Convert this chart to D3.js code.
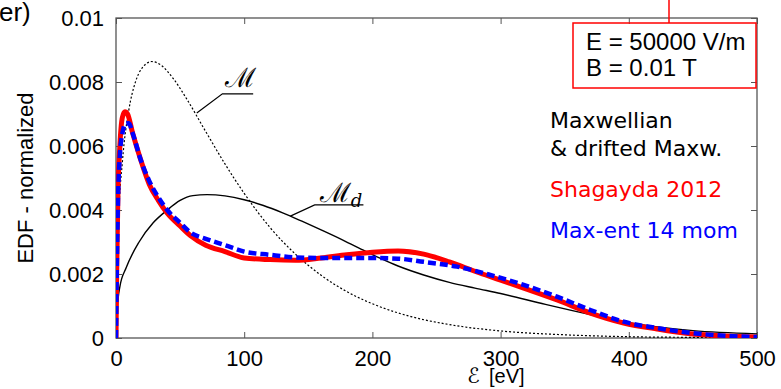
<!DOCTYPE html>
<html>
<head>
<meta charset="utf-8">
<script src="https://cdn.jsdelivr.net/npm/d3@7"></script>
<style>
  body { margin: 0; background: #fff; }
  svg { display: block; }
</style>
</head>
<body>
<div id="chart"></div>
<script>
// energies [eV] and EDF values
var maxwE = [0, 2, 5, 10, 15, 20, 28, 35, 45, 55, 70, 85, 100, 120, 140, 160, 180, 200, 230, 260, 300, 350, 400, 450, 500];
var maxwF = [0, 0.00367, 0.00551, 0.00712, 0.00798, 0.00842, 0.00864, 0.00853, 0.00809, 0.00748, 0.00645, 0.00544, 0.00452, 0.00346, 0.00262, 0.00196, 0.00145, 0.00107, 0.00067, 0.00042, 0.00022, 0.0001, 0.00004, 0.00002, 0.00001];

var driftE = [0, 1, 3, 8, 18, 29, 40, 50, 60, 71, 85, 100, 115, 130, 145, 160, 175, 190, 205, 220, 240, 260, 280, 300, 335, 370, 400, 450, 500];
var driftF = [0, 0.0009, 0.0016, 0.0022, 0.0030, 0.0036, 0.0040, 0.0043, 0.00445, 0.00448, 0.00444, 0.00432, 0.00414, 0.00391, 0.00365, 0.00338, 0.0031, 0.0028, 0.00251, 0.00225, 0.00197, 0.00174, 0.00156, 0.00139, 0.00105, 0.00073, 0.00048, 0.00023, 0.00013];

var shagE = [0, 0.5, 1.5, 3, 5, 7, 9, 13, 19, 26, 33, 40, 50, 58, 70, 85, 100, 120, 140, 160, 180, 200, 220, 240, 260, 281, 300, 318, 344, 370, 396, 422, 448, 475, 500];
var shagF = [0, 0.002, 0.0045, 0.006, 0.0069, 0.00707, 0.0070, 0.0064, 0.0056, 0.0048, 0.0043, 0.0039, 0.0035, 0.0032, 0.0029, 0.0027, 0.0025, 0.00245, 0.00243, 0.0025, 0.0026, 0.00268, 0.00272, 0.00262, 0.00238, 0.00207, 0.00181, 0.00156, 0.00119, 0.00078, 0.00047, 0.00028, 0.00013, 0.00006, 0.00003];

var maxentE = [0, 0.5, 1.5, 3, 5, 7.5, 10, 13, 19, 26, 33, 40, 50, 58, 70, 85, 100, 120, 140, 160, 180, 200, 220, 240, 266, 292, 318, 344, 370, 396, 422, 448, 475, 500];
var maxentF = [0, 0.0018, 0.0042, 0.0057, 0.0064, 0.0067, 0.00671, 0.0064, 0.0056, 0.0049, 0.0044, 0.0040, 0.0036, 0.0033, 0.0031, 0.0029, 0.0027, 0.0026, 0.00252, 0.0025, 0.0025, 0.0025, 0.00248, 0.00238, 0.00223, 0.00197, 0.00166, 0.00129, 0.000875, 0.00051, 0.00031, 0.00016, 0.00007, 0.00003];

var xTicks = [0, 100, 200, 300, 400, 500];
var yTicks = [0, 0.002, 0.004, 0.006, 0.008, 0.01];

var legendLabels = ["Maxwellian", "& drifted Maxw.", "Shagayda 2012", "Max-ent 14 mom"];
var boxLabels = ["E = 50000 V/m", "B = 0.01 T"];

var width = 781, height = 389;
var margin = {left: 116, right: 24, top: 18, bottom: 51};

var svg = d3.select('#chart')
	.append('svg')
	.attr('width', width)
	.attr('height', height);

var x = d3.scaleLinear().domain([0, 500]).range([margin.left, width - margin.right]);
var y = d3.scaleLinear().domain([0, 0.01]).range([height - margin.bottom, margin.top]);

var tickFont = '"Liberation Sans", Arial, sans-serif';

//clip for the curves
svg.append('clipPath').attr('id', 'clip')
	.append('rect')
	.attr('x', x(0)).attr('y', y(0.01) - 4)
	.attr('width', x(500) - x(0)).attr('height', y(0) - y(0.01) + 4);

//axes, ticks pointing inward
function styleAxis(g) {
	g.select('.domain').remove();
	g.selectAll('.tick line').attr('stroke', '#555').attr('stroke-width', 1);
	g.selectAll('.tick text').attr('fill', '#000').style('font-family', tickFont).style('font-size', '22px');
}

svg.append('g')
	.attr('transform', 'translate(0,' + y(0) + ')')
	.call(d3.axisBottom(x).tickValues(xTicks).tickSize(-6).tickPadding(12).tickFormat(d3.format('d')))
	.call(styleAxis);

svg.append('g')
	.attr('transform', 'translate(0,' + y(0.01) + ')')
	.call(d3.axisTop(x).tickValues(xTicks).tickSize(-6).tickFormat(''))
	.call(styleAxis);

svg.append('g')
	.attr('transform', 'translate(' + x(0) + ',0)')
	.call(d3.axisLeft(y).tickValues(yTicks).tickSize(-6).tickPadding(12).tickFormat(d3.format('.3~f')))
	.call(styleAxis);

svg.append('g')
	.attr('transform', 'translate(' + x(500) + ',0)')
	.call(d3.axisRight(y).tickValues(yTicks).tickSize(-6).tickFormat(''))
	.call(styleAxis);

//frame
svg.append('rect')
	.attr('x', x(0)).attr('y', y(0.01))
	.attr('width', x(500) - x(0)).attr('height', y(0) - y(0.01))
	.attr('fill', 'none')
	.attr('stroke', '#555')
	.attr('stroke-width', 1.3);

//curves
var line = d3.line()
	.x(function (d) { return x(d[0]); })
	.y(function (d) { return y(d[1]); })
	.curve(d3.curveMonotoneX);

function pairs(es, fs) {
	return es.map(function (e, i) { return [e, fs[i]]; });
}

var curves = svg.append('g').attr('clip-path', 'url(#clip)');

curves.append('path')
	.datum(pairs(maxwE, maxwF))
	.attr('d', line)
	.attr('fill', 'none')
	.attr('stroke', '#000')
	.attr('stroke-width', 1.2)
	.attr('stroke-dasharray', '2,2');

curves.append('path')
	.datum(pairs(driftE, driftF))
	.attr('d', line)
	.attr('fill', 'none')
	.attr('stroke', '#000')
	.attr('stroke-width', 1.4);

curves.append('path')
	.datum(pairs(shagE, shagF))
	.attr('d', line)
	.attr('fill', 'none')
	.attr('stroke', '#ff0000')
	.attr('stroke-width', 5);

curves.append('path')
	.datum(pairs(maxentE, maxentF))
	.attr('d', line)
	.attr('fill', 'none')
	.attr('stroke', '#0000ff')
	.attr('stroke-width', 4.5)
	.attr('stroke-dasharray', '8,4');

//curve labels with leader lines
function leader(e0, f0, e1, f1, e2) {
	svg.append('path')
		.attr('d', 'M' + x(e0) + ',' + y(f0) + 'L' + x(e1) + ',' + y(f1) + 'L' + x(e2) + ',' + y(f1))
		.attr('fill', 'none')
		.attr('stroke', '#000')
		.attr('stroke-width', 1.2);
}
leader(63, 0.00703, 83, 0.00763, 107);
leader(136, 0.00381, 155, 0.00416, 193);

svg.append('text')
	.attr('x', x(85)).attr('y', y(0.00785))
	.style('font-family', '"DejaVu Serif", serif')
	.style('font-size', '27px')
	.text('ℳ');

var md = svg.append('text')
	.attr('x', x(159)).attr('y', y(0.00425))
	.style('font-family', '"DejaVu Serif", serif')
	.style('font-size', '27px');
md.append('tspan').text('ℳ');
md.append('tspan').attr('dy', 5).style('font-size', '18px').style('font-style', 'italic').text('d');

//axis titles
svg.append('text')
	.attr('transform', 'translate(33,' + (y(0) + y(0.01)) / 2 + ') rotate(-90)')
	.attr('text-anchor', 'middle')
	.style('font-family', tickFont)
	.style('font-size', '22px')
	.text('EDF - normalized');

svg.append('text')
	.attr('x', 467).attr('y', 383)
	.style('font-family', '"DejaVu Sans", sans-serif')
	.style('font-size', '21px')
	.text('ℰ');
svg.append('text')
	.attr('x', 489).attr('y', 383)
	.style('font-family', tickFont)
	.style('font-size', '20px')
	.text('[eV]');

//cut-off panel title
svg.append('text')
	.attr('x', -1).attr('y', 21)
	.style('font-family', tickFont)
	.style('font-size', '26px')
	.text('er)');

//legend
var legendColors = ['#000', '#000', '#ff0000', '#0000ff'];
var legendY = [128, 156, 197, 238];
svg.append('g').selectAll('text')
	.data(legendLabels)
	.enter()
	.append('text')
	.attr('x', 550)
	.attr('y', function (d, i) { return legendY[i]; })
	.attr('fill', function (d, i) { return legendColors[i]; })
	.style('font-family', '"DejaVu Sans", sans-serif')
	.style('font-size', '22px')
	.text(function (d) { return d; });

//parameter box
svg.append('line')
	.attr('x1', 669).attr('x2', 669).attr('y1', 0).attr('y2', 23)
	.attr('stroke', '#ff0000').attr('stroke-width', 1.5);
svg.append('rect')
	.attr('x', 573).attr('y', 23).attr('width', 183).attr('height', 65)
	.attr('fill', 'none')
	.attr('stroke', '#ff0000')
	.attr('stroke-width', 1.5);
svg.append('g').selectAll('text')
	.data(boxLabels)
	.enter()
	.append('text')
	.attr('x', 586)
	.attr('y', function (d, i) { return 50 + i * 26; })
	.style('font-family', tickFont)
	.style('font-size', '24px')
	.text(function (d) { return d; });
</script>
</body>
</html>
